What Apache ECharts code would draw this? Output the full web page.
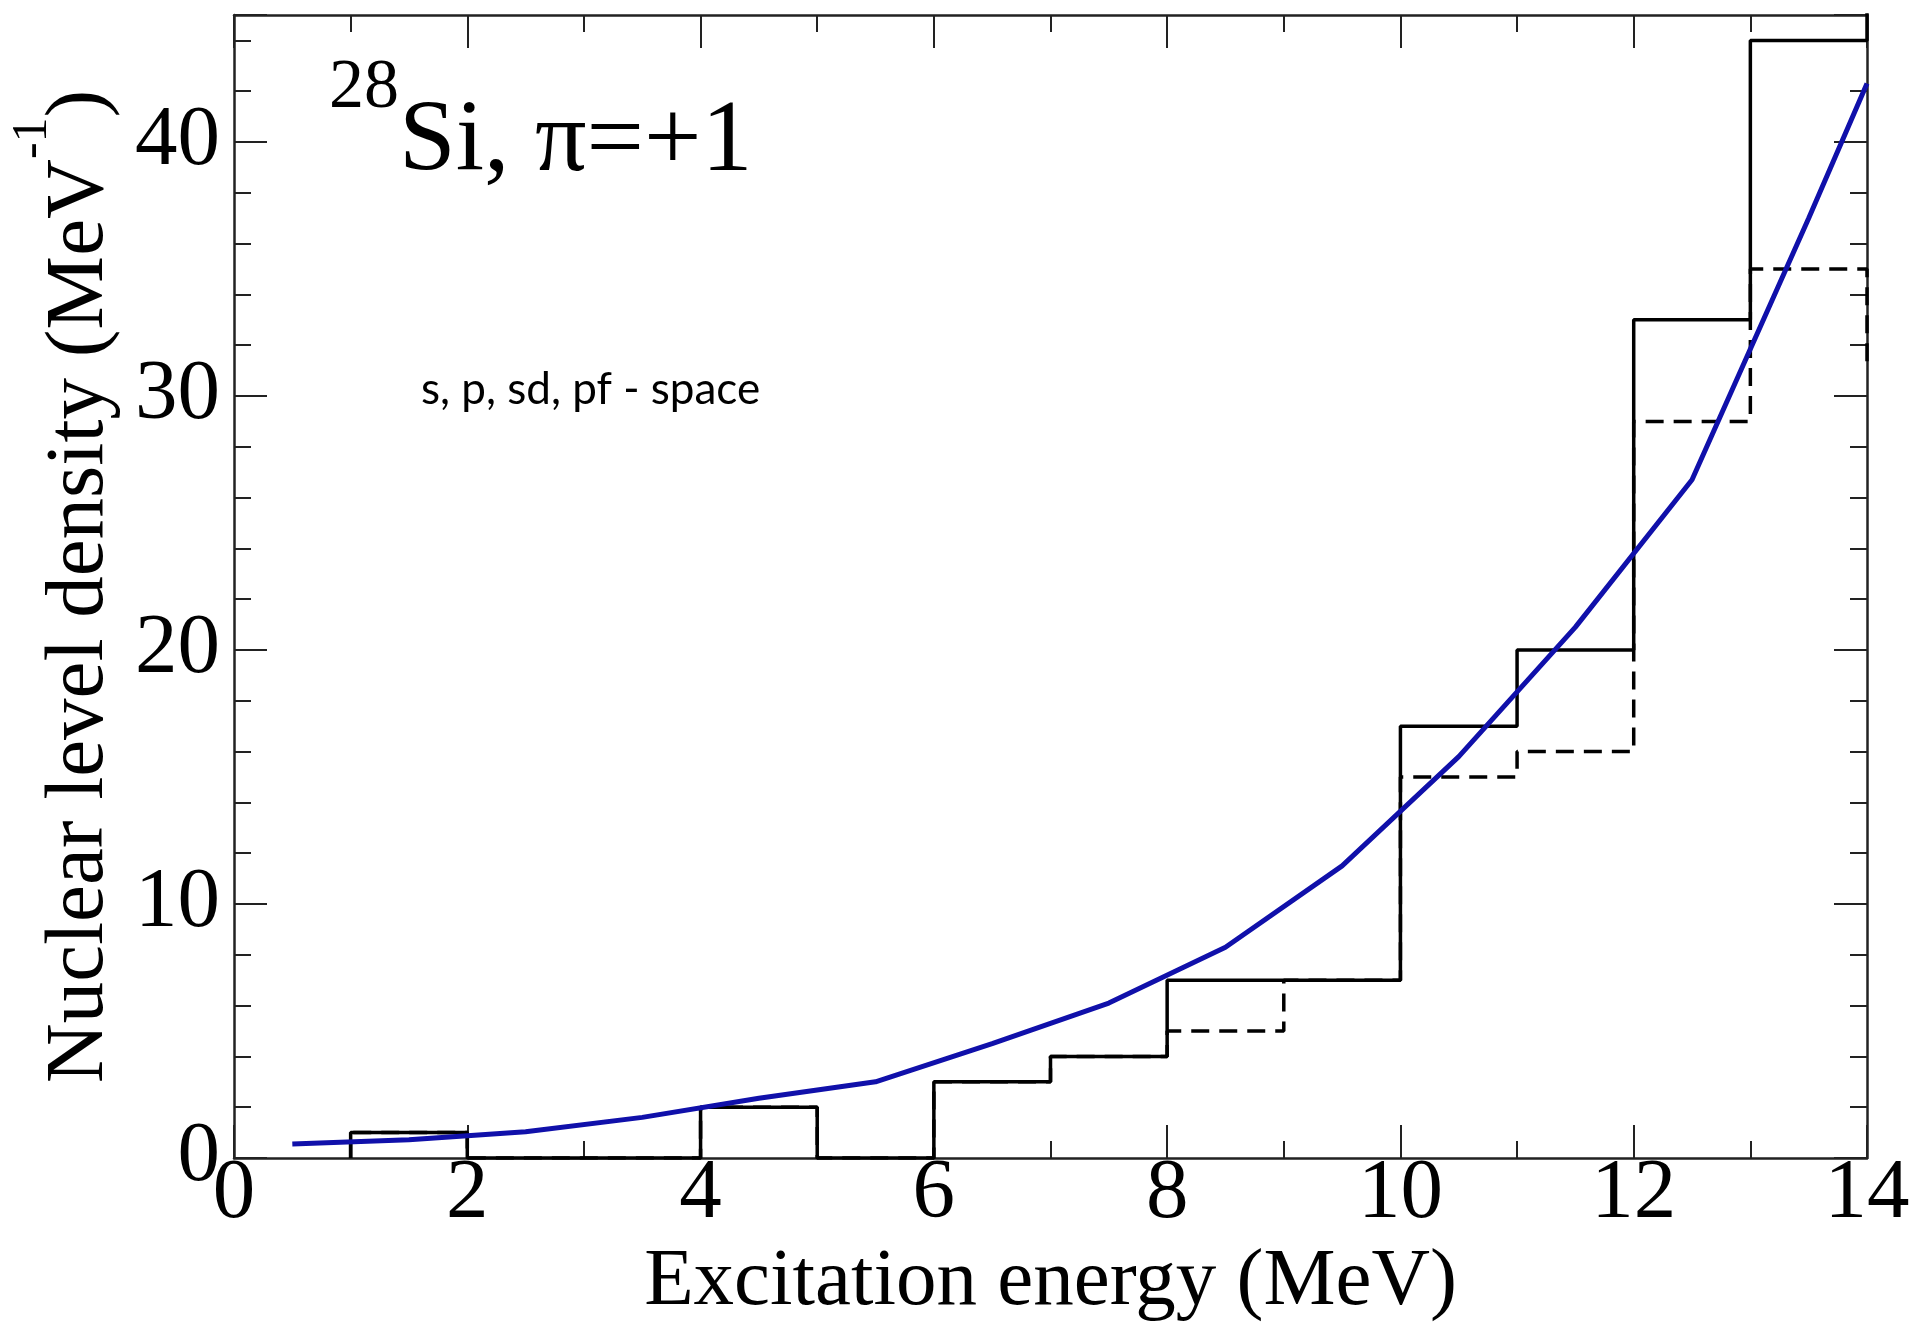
<!DOCTYPE html>
<html>
<head>
<meta charset="utf-8">
<script src="https://cdn.jsdelivr.net/npm/echarts@6/dist/echarts.min.js"></script>
<style>
  html, body { margin: 0; padding: 0; background: #fff; }
  #chart { width: 1921px; height: 1323px; }
</style>
</head>
<body>
<div id="chart"></div>
<script>
// ---- data ----
const binStart      = [1, 2, 3, 4, 5, 6, 7, 8, 9, 10, 11, 12, 13, 14];
const solidCounts   = [1, 0, 0, 2, 0, 3, 4, 7, 7, 17, 20, 33, 44, 60];
const dashedCounts  = [1, 0, 0, 2, 0, 3, 4, 5, 7, 15, 16, 29, 35, 31];
const fitEnergy     = [0.5, 1.5, 2.5, 3.5, 4.5, 5.5, 6.5, 7.5, 8.5, 9.5, 10.5, 11.5, 12.5, 13.5, 14];
const fitDensity    = [0.55, 0.72, 1.03, 1.6, 2.35, 3.0, 4.5, 6.1, 8.3, 11.5, 15.8, 20.9, 26.7, 37.0, 42.3];

const xTitle = 'Excitation energy (MeV)';
const yTitleMain = 'Nuclear level density (MeV';
const yTitleSup = '-1';
const labelTitleSup = '28';
const labelTitleMain = 'Si, π=+1';
const labelSpace = 's, p, sd, pf - space';

const SERIF = 'Liberation Serif, Times New Roman, serif';
const AXC = '#222';

function stepData(xs, ys) {
  const d = [[xs[0], 0]];
  xs.forEach((x, i) => d.push([x, ys[i]]));
  return d;
}

const chart = echarts.init(document.getElementById('chart'), null, { renderer: 'canvas' });

function xAx(pos, major, withLabels) {
  return {
    type: 'value', position: pos, min: 0, max: 14, interval: major ? 2 : 1,
    axisLine: { show: major, onZero: false, lineStyle: { color: AXC, width: 2.5 } },
    axisTick: { show: true, inside: true, length: major ? 33 : 17, lineStyle: { color: AXC, width: 2 } },
    axisLabel: withLabels ? { show: true, fontFamily: SERIF, fontSize: 85, color: '#000', margin: -6 } : { show: false },
    splitLine: { show: false },
    name: withLabels ? xTitle : '',
    nameLocation: 'middle', nameGap: 80,
    nameTextStyle: { fontFamily: SERIF, fontSize: 81, color: '#000' }
  };
}
function yAx(pos, major, withLabels) {
  return {
    type: 'value', position: pos, min: 0, max: 45, interval: major ? 10 : 2,
    axisLine: { show: major, onZero: false, lineStyle: { color: AXC, width: 2.5 } },
    axisTick: { show: true, inside: true, length: major ? 33 : 17, lineStyle: { color: AXC, width: 2 } },
    axisLabel: withLabels ? {
      show: true, fontFamily: SERIF, fontSize: 85, color: '#000', margin: 14,
      formatter: v => (v % 10 === 0 ? String(v) : '')
    } : { show: false },
    splitLine: { show: false },
    name: withLabels ? '{m|' + yTitleMain + '}{s|' + yTitleSup + '}{m|)}' : '',
    nameLocation: 'middle', nameGap: 112, nameRotate: 90,
    nameTextStyle: {
      fontFamily: SERIF, color: '#000',
      rich: {
        m: { fontFamily: SERIF, fontSize: 83, color: '#000', verticalAlign: 'bottom', lineHeight: 114 },
        s: { fontFamily: SERIF, fontSize: 50, color: '#000', verticalAlign: 'top', lineHeight: 50 }
      }
    }
  };
}

const option = {
  backgroundColor: '#fff',
  animation: false,
  grid: { left: 234, right: 54, top: 15, bottom: 165, containLabel: false, outerBoundsMode: 'none' },
  xAxis: [xAx('bottom', true, true), xAx('bottom', false, false), xAx('top', true, false), xAx('top', false, false)],
  yAxis: [yAx('left', true, true), yAx('left', false, false), yAx('right', true, false), yAx('right', false, false)],
  graphic: [
    { type: 'text', x: 329, y: 89, style: { text: labelTitleSup, fontFamily: SERIF, fontSize: 70, fill: '#000', verticalAlign: 'middle', align: 'left' } },
    { type: 'text', x: 399, y: 143, style: { text: labelTitleMain, fontFamily: SERIF, fontSize: 102, fill: '#000', verticalAlign: 'middle', align: 'left' } },
    { type: 'text', x: 421, y: 390, style: { text: labelSpace, fontFamily: 'Lato, Noto Sans, sans-serif', fontSize: 44, fill: '#000', verticalAlign: 'middle', align: 'left' } }
  ],
  series: [
    {
      type: 'line', step: 'end', xAxisIndex: 0, yAxisIndex: 0,
      data: stepData(binStart, dashedCounts),
      symbol: 'none', lineStyle: { color: '#000', width: 3.5, type: [18, 10] }, z: 2
    },
    {
      type: 'line', step: 'end', xAxisIndex: 0, yAxisIndex: 0,
      data: stepData(binStart, solidCounts),
      symbol: 'none', lineStyle: { color: '#000', width: 3.5 }, z: 3
    },
    {
      type: 'line', xAxisIndex: 0, yAxisIndex: 0,
      data: fitEnergy.map((x, i) => [x, fitDensity[i]]),
      symbol: 'none', smooth: false, lineStyle: { color: '#1010aa', width: 5 }, z: 4
    }
  ]
};
chart.setOption(option);
</script>
</body>
</html>
